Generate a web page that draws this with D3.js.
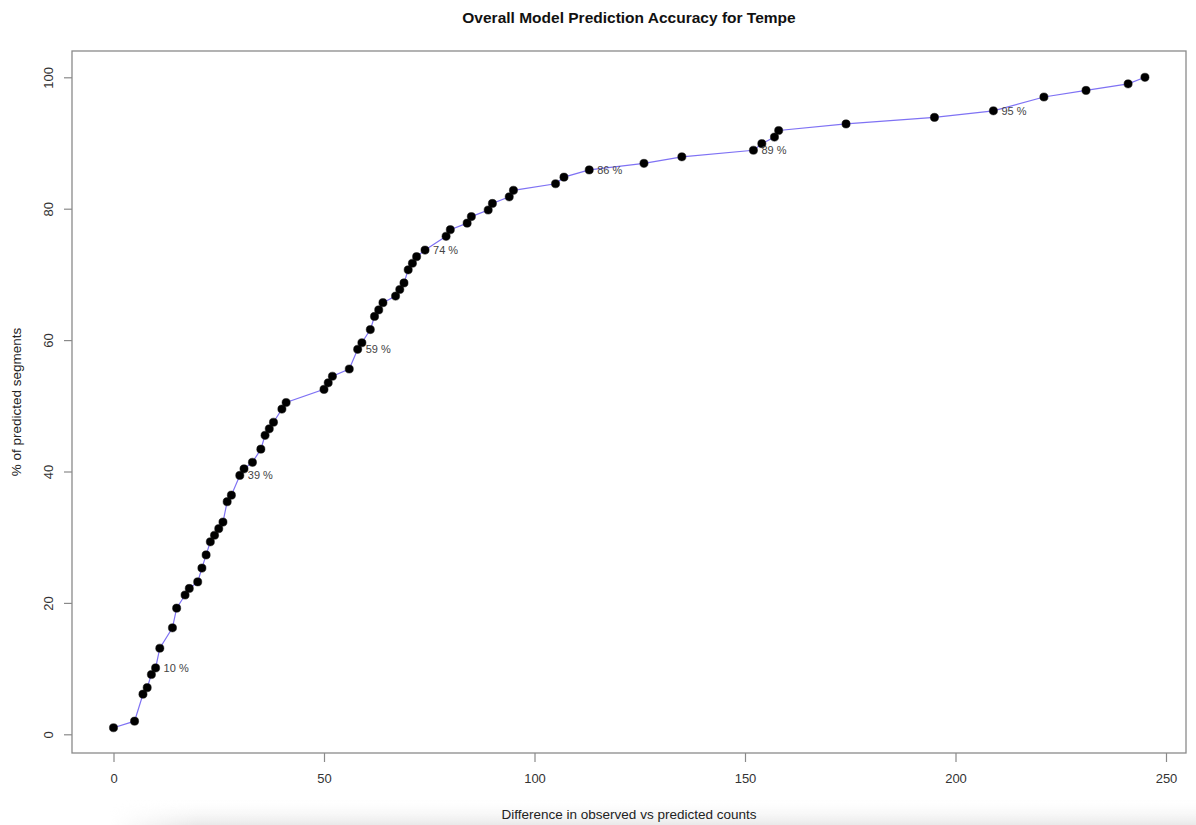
<!DOCTYPE html>
<html>
<head>
<meta charset="utf-8">
<script src="https://cdn.jsdelivr.net/npm/d3@7"></script>
<style>
  html, body { margin: 0; padding: 0; background: #fff; }
  svg { display: block; font-family: "Liberation Sans", Arial, sans-serif; }
</style>
</head>
<body>
<svg id="chart" width="1196" height="825"></svg>
<script>
// Cumulative share of segments whose observed vs predicted difference is within each value
const diffs = [0,5,7,8,9,10,11,14,15,17,18,20,21,22,23,24,25,26,27,28,
               30,31,33,35,36,37,38,40,41,50,51,52,56,58,59,61,62,63,64,67,
               68,69,70,71,72,74,79,80,84,85,89,90,94,95,105,107,113,126,135,152,
               154,157,158,174,195,209,221,231,241,245];
const pctSegments = [1.0,2.0,6.1,7.1,9.1,10.1,13.1,16.2,19.2,21.2,
                     22.2,23.2,25.3,27.3,29.3,30.3,31.3,32.3,35.4,36.4,
                     39.4,40.4,41.4,43.4,45.5,46.5,47.5,49.5,50.5,52.5,
                     53.5,54.5,55.6,58.6,59.6,61.6,63.6,64.6,65.7,66.7,
                     67.7,68.7,70.7,71.7,72.7,73.7,75.8,76.8,77.8,78.8,
                     79.8,80.8,81.8,82.8,83.8,84.8,85.9,86.9,87.9,88.9,
                     89.9,90.9,91.9,92.9,93.9,94.9,97.0,98.0,99.0,100];
// Differences whose point carries a percentage annotation
const annotatedDiffs = [10, 30, 58, 74, 113, 152, 209];
const xTicks = [0, 50, 100, 150, 200, 250];
const yTicks = [0, 20, 40, 60, 80, 100];

const title = "Overall Model Prediction Accuracy for Tempe";
const xTitle = "Difference in observed vs predicted counts";
const yTitle = "% of predicted segments";

const points = diffs.map((d, i) => ({ x: d, y: pctSegments[i] }));

const svg = d3.select("#chart");
const box = { left: 72, right: 1186, top: 51, bottom: 753 };

const x = d3.scaleLinear().domain([0, 250]).range([113.5, 1166]);
const y = d3.scaleLinear().domain([0, 100]).range([734.3, 77.3]);

// faint shading along the lower edge
const defs = svg.append("defs");
const g1 = defs.append("linearGradient").attr("id", "shadeV")
  .attr("x1", 0).attr("y1", 0).attr("x2", 0).attr("y2", 1);
g1.append("stop").attr("offset", "0%").attr("stop-color", "#fff").attr("stop-opacity", 0);
g1.append("stop").attr("offset", "100%").attr("stop-color", "#e9e9e9").attr("stop-opacity", 1);
const mask = defs.append("linearGradient").attr("id", "shadeH")
  .attr("x1", 0).attr("y1", 0).attr("x2", 1).attr("y2", 0);
mask.append("stop").attr("offset", "0%").attr("stop-color", "#fff").attr("stop-opacity", 0);
mask.append("stop").attr("offset", "8%").attr("stop-color", "#fff").attr("stop-opacity", 1);
mask.append("stop").attr("offset", "100%").attr("stop-color", "#fff").attr("stop-opacity", 1);
defs.append("mask").attr("id", "shadeMask")
  .append("rect").attr("x", 110).attr("y", 798).attr("width", 1086).attr("height", 27)
  .attr("fill", "url(#shadeH)");
svg.append("rect").attr("x", 110).attr("y", 798).attr("width", 1086).attr("height", 27)
  .attr("fill", "url(#shadeV)").attr("mask", "url(#shadeMask)");

// plot frame
svg.append("rect")
  .attr("x", box.left).attr("y", box.top)
  .attr("width", box.right - box.left).attr("height", box.bottom - box.top)
  .attr("fill", "none").attr("stroke", "#8a8a8a").attr("stroke-width", 1.3);

// axes
const xAxis = svg.append("g")
  .attr("transform", `translate(0,${box.bottom})`)
  .call(d3.axisBottom(x).tickValues(xTicks).tickSize(9).tickPadding(12).tickFormat(d3.format("d")));
xAxis.select(".domain").remove();
xAxis.selectAll(".tick line").attr("stroke", "#8a8a8a").attr("stroke-width", 1.2);
xAxis.selectAll(".tick text").attr("fill", "#333").style("font-size", "13px");

const yAxis = svg.append("g")
  .attr("transform", `translate(${box.left},0)`)
  .call(d3.axisLeft(y).tickValues(yTicks).tickSize(8).tickFormat(d3.format("d")));
yAxis.select(".domain").remove();
yAxis.selectAll(".tick line").attr("stroke", "#8a8a8a").attr("stroke-width", 1.2);
yAxis.selectAll(".tick text")
  .attr("fill", "#333").style("font-size", "13px")
  .attr("x", null).attr("dy", null)
  .attr("text-anchor", "middle")
  .attr("transform", "translate(-24,0) rotate(-90)")
  .attr("dy", "0.35em");

// connecting line
const line = d3.line().x(d => x(d.x)).y(d => y(d.y));
svg.append("path").datum(points)
  .attr("d", line)
  .attr("fill", "none")
  .attr("stroke", "#7f72f4")
  .attr("stroke-width", 1.2);

// points
svg.append("g").selectAll("circle").data(points).join("circle")
  .attr("cx", d => x(d.x)).attr("cy", d => y(d.y))
  .attr("r", 4.1)
  .attr("fill", "#000")
  .attr("stroke", "#111").attr("stroke-width", 0.5);

// percentage annotations
svg.append("g").selectAll("text")
  .data(points.filter(p => annotatedDiffs.includes(p.x)))
  .join("text")
  .attr("x", d => x(d.x) + 8)
  .attr("y", d => y(d.y))
  .attr("dy", "0.35em")
  .attr("fill", "#444")
  .style("font-size", "11px")
  .text(d => Math.round(d.y) + " %");

// titles
svg.append("text")
  .attr("x", (box.left + box.right) / 2).attr("y", 23)
  .attr("text-anchor", "middle")
  .attr("fill", "#111")
  .style("font-size", "15.5px").style("font-weight", "bold")
  .text(title);

svg.append("text")
  .attr("x", (box.left + box.right) / 2).attr("y", 819)
  .attr("text-anchor", "middle")
  .attr("fill", "#222")
  .style("font-size", "13.5px")
  .text(xTitle);

svg.append("text")
  .attr("transform", `translate(21,${(box.top + box.bottom) / 2}) rotate(-90)`)
  .attr("text-anchor", "middle")
  .attr("fill", "#222")
  .style("font-size", "13.5px")
  .text(yTitle);
</script>
</body>
</html>
